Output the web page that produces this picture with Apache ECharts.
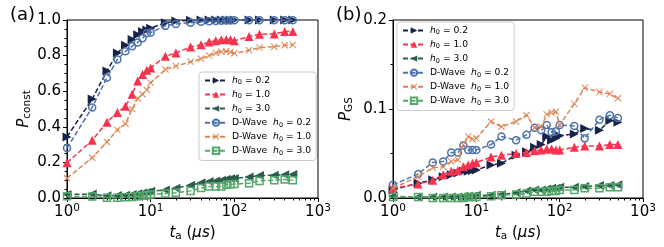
<!DOCTYPE html>
<html><head><meta charset="utf-8">
<script src="https://cdn.jsdelivr.net/npm/echarts@6/dist/echarts.min.js"></script>
<style>html,body{margin:0;padding:0;background:#fff}#c{width:664px;height:247px}</style>
</head><body><div id="c"></div>
<script>
const tVals = [1,2,3,4,5,6,7,8,9,10,15,20,30,40,50,60,70,80,90,100,150,200,300,400,500];
const xTickLabels = ['10^0','10^1','10^2','10^3'];
const seriesNames = ['h0=0.2','h0=1.0','h0=3.0','D-Wave h0=0.2','D-Wave h0=1.0','D-Wave h0=3.0'];

// panel (a): P_const
const constH02 = [0.343,0.556,0.713,0.815,0.858,0.89,0.917,0.935,0.944,0.954,0.985,0.994,0.998,1,1,1,1,1,1,1,1,1,1,1,1];
const constH10 = [0.198,0.324,0.426,0.481,0.515,0.583,0.657,0.694,0.717,0.731,0.796,0.815,0.848,0.861,0.876,0.883,0.889,0.891,0.889,0.883,0.907,0.92,0.922,0.935,0.935];
const constH30 = [0.02,0.022,0.012,0.014,0.016,0.02,0.024,0.028,0.033,0.038,0.045,0.055,0.072,0.085,0.092,0.096,0.1,0.105,0.108,0.11,0.118,0.126,0.128,0.13,0.132];
const constDW02 = [0.281,0.509,0.676,0.778,0.824,0.852,0.874,0.898,0.926,0.93,0.967,0.978,0.985,0.99,0.993,0.995,0.996,0.997,0.997,0.998,0.998,0.999,0.999,0.999,0.999];
const constDW10 = [0.111,0.226,0.315,0.383,0.417,0.5,0.559,0.583,0.607,0.648,0.722,0.741,0.765,0.782,0.8,0.815,0.822,0.824,0.82,0.813,0.83,0.845,0.85,0.858,0.86];
const constDW30 = [0.01,0.008,0.002,0.002,0.004,0.006,0.01,0.013,0.016,0.02,0.025,0.03,0.04,0.056,0.064,0.065,0.065,0.074,0.077,0.078,0.083,0.096,0.1,0.104,0.1];

// panel (b): P_GS
const gsH02 = [0.0093,0.0167,0.0204,0.024,0.026,0.028,0.030,0.030,0.031,0.0315,0.037,0.039,0.048,0.052,0.057,0.06,0.069,0.065,0.067,0.070,0.072,0.078,0.076,0.087,0.085];
const gsH10 = [0.011,0.0156,0.020,0.026,0.030,0.031,0.035,0.037,0.039,0.040,0.046,0.048,0.050,0.051,0.053,0.054,0.055,0.055,0.054,0.054,0.057,0.0585,0.0585,0.060,0.060];
const gsH30 = [0.002,0.001,0.001,0.001,0.001,0.001,0.002,0.002,0.002,0.003,0.003,0.004,0.006,0.008,0.009,0.009,0.01,0.011,0.011,0.012,0.012,0.013,0.014,0.014,0.015];
const gsDW02 = [0.0148,0.027,0.040,0.041,0.051,0.051,0.059,0.054,0.054,0.054,0.060,0.069,0.065,0.071,0.079,0.076,0.082,0.074,0.075,0.082,0.081,0.067,0.088,0.093,0.090];
const gsDW10 = [0.011,0.024,0.034,0.035,0.041,0.043,0.060,0.069,0.066,0.067,0.086,0.080,0.086,0.093,0.079,0.080,0.094,0.096,0.097,0.082,0.106,0.124,0.119,0.117,0.112];
const gsDW30 = [0.001,0.001,0.0,0.0,0.0,0.0,0.0,0.001,0.001,0.001,0.002,0.003,0.004,0.005,0.007,0.007,0.007,0.008,0.008,0.009,0.009,0.011,0.011,0.012,0.012];

const FONT = 'DejaVu Sans';
const colors = ['#17244a','#f7334f','#2b5d4f','#4c72b0','#dd8452','#55a868'];
const xPath = 'path://M1,0 L5,4 L9,0 L10,1 L6,5 L10,9 L9,10 L5,6 L1,10 L0,9 L4,5 L0,1 Z';
const styles = [
  {symbol:'triangle', symbolRotate:-90, symbolSize:9, fill:true},
  {symbol:'triangle', symbolRotate:0, symbolSize:9, fill:true},
  {symbol:'triangle', symbolRotate:90, symbolSize:9, fill:true},
  {symbol:'circle', symbolRotate:0, symbolSize:7, fill:false},
  {symbol:xPath, symbolRotate:0, symbolSize:7, fill:true},
  {symbol:'rect', symbolRotate:0, symbolSize:7, fill:false}
];
const panelA = [constH02,constH10,constH30,constDW02,constDW10,constDW30];
const panelB = [gsH02,gsH10,gsH30,gsDW02,gsDW10,gsDW30];

function mkSeries(vals, k, gi){
  const st = styles[k];
  return {
    name: seriesNames[k], type:'line', xAxisIndex: gi*2, yAxisIndex: gi,
    data: tVals.map((t,i)=>[t, vals[i]]),
    symbol: st.symbol, symbolRotate: st.symbolRotate, symbolSize: st.symbolSize,
    showAllSymbol: true, animation:false,
    lineStyle: {color: colors[k], width:1.5, type:[5,2.5]},
    itemStyle: st.fill ? {color: colors[k], borderWidth:0} : {color:'rgba(255,255,255,0)', borderColor: colors[k], borderWidth:1.5},
    emphasis: {disabled:true}, z: 2+k*0.01
  };
}

const tickRich = {
  b:{fontFamily:FONT,fontSize:15,color:'#000',lineHeight:18},
  p:{fontFamily:FONT,fontSize:10.5,color:'#000',lineHeight:10,verticalAlign:'top'}
};
const nameRich = {
  i:{fontFamily:FONT,fontSize:15,fontStyle:'italic',color:'#000',lineHeight:18},
  t:{fontFamily:FONT,fontSize:15,color:'#000',lineHeight:18},
  s:{fontFamily:FONT,fontSize:10.5,color:'#000',lineHeight:10,verticalAlign:'bottom'}
};
const minorVals = [];
[1,10,100].forEach(d=>{for(let m=2;m<=9;m++) minorVals.push(m*d);});

function xAxes(gi){
  return [
    {type:'log', gridIndex:gi, min:1, max:1000, logBase:10, position:'bottom',
     axisLine:{show:true,lineStyle:{color:'#000',width:1}},
     axisTick:{show:true,length:4,lineStyle:{color:'#000'}},
     splitLine:{show:false},
     axisLabel:{margin:5, color:'#000', rich:tickRich,
       formatter:(v)=>{const lab = xTickLabels[Math.round(Math.log10(v))]; const p = lab.split('^'); return '{b|'+p[0]+'}{p|'+p[1]+'}';}},
     name:'{i|t}{s|a}{t| (}{i|μs}{t|)}', nameLocation:'middle', nameGap:26,
     nameTextStyle:{rich:nameRich}},
    {type:'log', gridIndex:gi, min:1, max:1000, logBase:10, position:'bottom',
     axisLine:{show:false}, axisLabel:{show:false}, splitLine:{show:false},
     axisTick:{show:true,length:2.5,customValues:minorVals,lineStyle:{color:'#000'}}}
  ];
}
function yAxis(gi, max, interval, minorSplit, nameStr, gap){
  return {type:'value', gridIndex:gi, min:0, max:max, interval:interval,
    axisLine:{show:true,lineStyle:{color:'#000',width:1}},
    axisTick:{show:true,length:4,lineStyle:{color:'#000'}},
    minorTick:{show:true,splitNumber:minorSplit,length:2.5,lineStyle:{color:'#000'}},
    splitLine:{show:false}, minorSplitLine:{show:false},
    axisLabel:{margin:6,color:'#000',fontFamily:FONT,fontSize:15,formatter:(v)=>v.toFixed(1)},
    name:nameStr, nameLocation:'middle', nameGap:gap, nameRotate:90,
    nameTextStyle:{rich:nameRich}};
}
function legendLabel(name){
  const m = name.match(/^(D-Wave )?h0=(.*)$/);
  return (m[1] ? '{t|D-Wave  }' : '') + '{i|h}{s|0}{t| = '+m[2]+'}';
}
const legRich = {
  t:{fontFamily:FONT,fontSize:9.2,color:'#000',lineHeight:11.5},
  i:{fontFamily:FONT,fontSize:9.2,fontStyle:'italic',color:'#000',lineHeight:11.5},
  s:{fontFamily:FONT,fontSize:6.5,color:'#000',lineHeight:6.5,verticalAlign:'bottom'}
};
function legend(left, top){
  return {data:seriesNames, orient:'vertical', left:left, top:top,
    itemWidth:22, itemHeight:8, itemGap:3.8, padding:[4,5,4,5],
    backgroundColor:'rgba(255,255,255,0.8)', borderColor:'#cccccc', borderWidth:1, borderRadius:3,
    formatter:legendLabel, textStyle:{rich:legRich}, selectedMode:false};
}

const series = [];
panelA.forEach((v,k)=>series.push(mkSeries(v,k,0)));
panelB.forEach((v,k)=>series.push(mkSeries(v,k,1)));

const chart = echarts.init(document.getElementById('c'), null, {renderer:'canvas'});
chart.setOption({
  animation:false,
  backgroundColor:'#fff',
  title:[
    {text:'(a)', left:5, top:1, textStyle:{fontFamily:FONT,fontSize:18,fontWeight:'normal',color:'#000'}},
    {text:'(b)', left:331, top:1, textStyle:{fontFamily:FONT,fontSize:18,fontWeight:'normal',color:'#000'}}
  ],
  grid:[
    {left:67, top:20, width:251, height:180, show:true, borderColor:'#000', borderWidth:1, backgroundColor:'transparent'},
    {left:393, top:20, width:250, height:180, show:true, borderColor:'#000', borderWidth:1, backgroundColor:'transparent'}
  ],
  xAxis:[...xAxes(0), ...xAxes(1)],
  yAxis:[yAxis(0,1,0.2,4,'{i|P}{s|const}',30), yAxis(1,0.2,0.1,2,'{i|P}{s|GS}',38)],
  legend:[legend(199,72), legend(397,22)],
  series:series
});
</script></body></html>
